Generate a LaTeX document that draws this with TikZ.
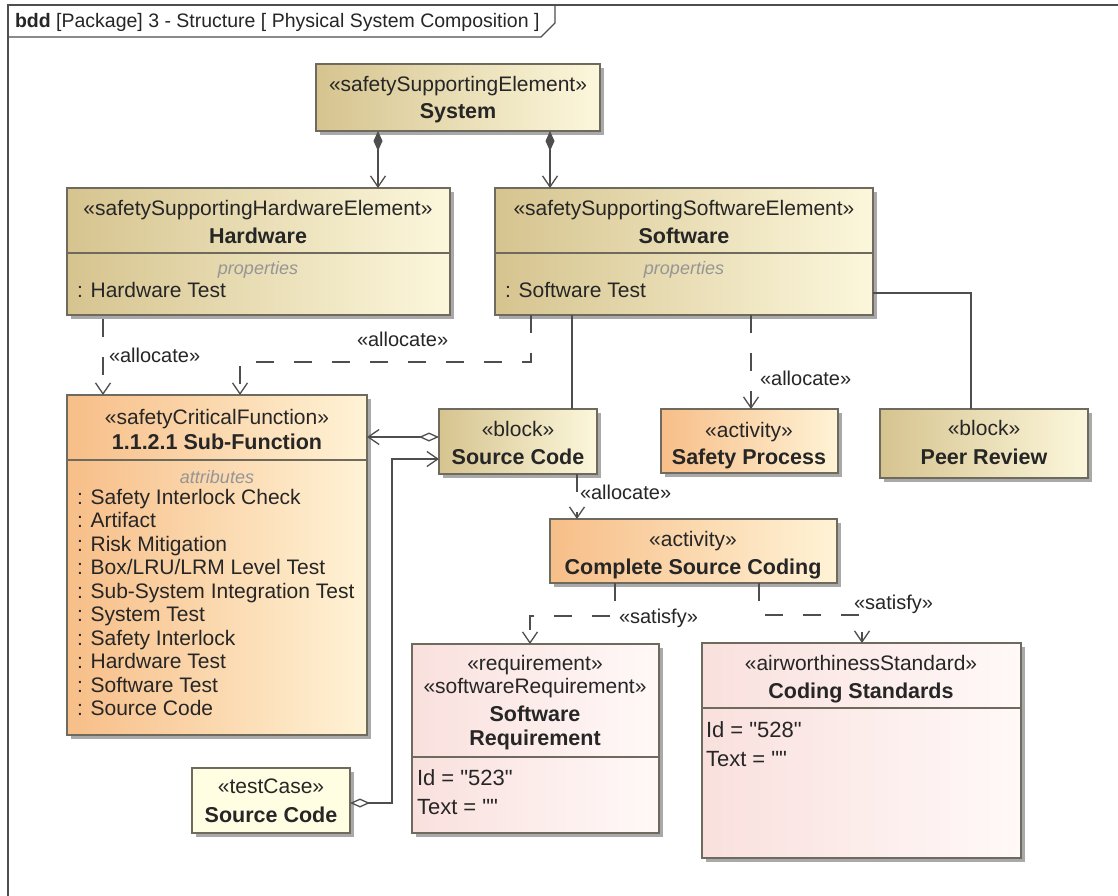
\documentclass[tikz,border=0pt]{standalone}
\usepackage{fontspec}
\setmainfont{Liberation Sans}[Ligatures=TeXOff]
\usetikzlibrary{arrows.meta,shadows}
\definecolor{gold1}{HTML}{D6C48F}
\definecolor{gold2}{HTML}{FCF7DC}
\definecolor{orange1}{HTML}{F7BE88}
\definecolor{orange2}{HTML}{FFF3D6}
\definecolor{pink1}{HTML}{F9E0DD}
\definecolor{pink2}{HTML}{FFF9F8}
\definecolor{tcfill}{HTML}{FFFDE2}
\definecolor{bordc}{HTML}{6E6A5E}
\definecolor{shadowc}{HTML}{A9A9A9}
\definecolor{txt}{HTML}{262626}
\definecolor{linec}{HTML}{4E4E4E}
\definecolor{greyit}{HTML}{959595}
\tikzset{
  box/.style={draw=bordc, line width=1.3pt, anchor=north west,
    drop shadow={shadow xshift=4pt, shadow yshift=-4pt, fill=shadowc, opacity=1}},
  goldbox/.style={box, left color=gold1, right color=gold2},
  orangebox/.style={box, left color=orange1, right color=orange2},
  pinkbox/.style={box, left color=pink1, right color=pink2},
  tcbox/.style={box, fill=tcfill},
  divider/.style={draw=bordc, line width=1.3pt},
  st/.style={anchor=base, font=\fontsize{21}{24}\selectfont},
  nm/.style={anchor=base, font=\fontsize{21.5}{25}\selectfont\bfseries},
  it/.style={anchor=base, text=greyit, font=\fontsize{18}{21}\selectfont\itshape},
  attr/.style={anchor=base west, font=\fontsize{21}{24}\selectfont},
  val/.style={anchor=base west, font=\fontsize{22}{25}\selectfont},
  lbl/.style={anchor=base west, font=\fontsize{20}{24}\selectfont},
  conn/.style={draw=linec, line width=1.3pt},
  dsh/.style={conn, dash pattern=on 18pt off 20pt},
  opentip/.style={-{Straight Barb[length=11pt,width=15pt,line width=1.3pt]}},
  comp/.style={conn, {Diamond[length=20pt,width=9pt]}-{Straight Barb[length=11pt,width=15pt,line width=1.3pt]}},
  aggr/.style={conn, {Diamond[open,length=20pt,width=9pt,fill=white]}-{Straight Barb[length=11pt,width=15pt,line width=1.3pt]}}
}
\begin{document}
\begin{tikzpicture}[x=1pt,y=-1pt, every node/.style={inner sep=0pt, outer sep=0pt, text=txt}]
\useasboundingbox[fill=white] (0,0) rectangle (1118,896);
% frame
\draw[draw=linec, line width=1.3pt] (8,896) -- (8,5) -- (1118,5);
\draw[draw=linec, line width=1.3pt] (8,37) -- (541,37) -- (555,23) -- (555,5);
\node[anchor=base west, font=\fontsize{19.5}{22}\selectfont] (hdr) at (15,28) {\textbf{bdd} [Package] 3 - Structure [ Physical System Composition ]};

% boxes
\node[goldbox, minimum width=284pt, minimum height=67pt] (sys) at (316,64) {};
\node[goldbox, minimum width=383pt, minimum height=127pt] (hw) at (67,188) {};
\node[goldbox, minimum width=378pt, minimum height=127pt] (sw) at (495,188) {};
\node[orangebox, minimum width=300pt, minimum height=340pt] (sub) at (67,395) {};
\node[goldbox, minimum width=158pt, minimum height=65pt] (blk) at (439,409) {};
\node[orangebox, minimum width=177pt, minimum height=64pt] (sp) at (661,409) {};
\node[goldbox, minimum width=208pt, minimum height=69pt] (pr) at (880,409) {};
\node[orangebox, minimum width=287pt, minimum height=64pt] (csc) at (550,519) {};
\node[pinkbox, minimum width=247pt, minimum height=189pt] (req) at (412,644) {};
\node[pinkbox, minimum width=319pt, minimum height=215pt] (cs) at (702,643) {};
\node[tcbox, minimum width=158pt, minimum height=65pt] (tc) at (192,768) {};

% dividers
\draw[divider] ([yshift=-65pt]hw.north west) -- ([yshift=-65pt]hw.north east);
\draw[divider] ([yshift=-65pt]sw.north west) -- ([yshift=-65pt]sw.north east);
\draw[divider] ([yshift=-65pt]sub.north west) -- ([yshift=-65pt]sub.north east);
\draw[divider] ([yshift=-113pt]req.north west) -- ([yshift=-113pt]req.north east);
\draw[divider] ([yshift=-65pt]cs.north west) -- ([yshift=-65pt]cs.north east);

% texts
\node[st] (sysS) at (458,92) {«safetySupportingElement»};
\node[nm] (sysN) at (458,119) {System};

\node[st] (hwS) at (258,215) {«safetySupportingHardwareElement»};
\node[nm] (hwN) at (258,243) {Hardware};
\node[it] (hwP) at (258,274) {properties};
\node[attr] (hwA) at (77,297) {: Hardware Test};

\node[st] (swS) at (684,215) {«safetySupportingSoftwareElement»};
\node[nm] (swN) at (684,243) {Software};
\node[it] (swP) at (684,274) {properties};
\node[attr] (swA) at (505,297) {: Software Test};

\node[st] (subS) at (217,424) {«safetyCriticalFunction»};
\node[nm] (subN) at (217,449) {1.1.2.1 Sub-Function};
\node[it] (subP) at (217,483) {attributes};
\foreach \t [count=\i from 0] in {Safety Interlock Check, Artifact, Risk Mitigation, Box/LRU/LRM Level Test, Sub-System Integration Test, System Test, Safety Interlock, Hardware Test, Software Test, Source Code}
  \node[attr] (subA\i) at (77,504+23.5*\i) {: \t};

\node[st] (blkS) at (518,436) {«block»};
\node[nm] (blkN) at (518,464) {Source Code};

\node[st] (spS) at (749,437) {«activity»};
\node[nm] (spN) at (749,464) {Safety Process};

\node[st] (prS) at (984,435) {«block»};
\node[nm] (prN) at (984,464) {Peer Review};

\node[st] (cscS) at (693,546) {«activity»};
\node[nm] (cscN) at (693,574) {Complete Source Coding};

\node[st] (reqS1) at (535,670) {«requirement»};
\node[st] (reqS2) at (535,693) {«softwareRequirement»};
\node[nm] (reqN1) at (535,721) {Software};
\node[nm] (reqN2) at (535,745) {Requirement};
\node[val] (reqI) at (417,785) {Id = "523"};
\node[val] (reqT) at (417,814) {Text = ""};

\node[st] (csS) at (861,670) {«airworthinessStandard»};
\node[nm] (csN) at (861,698) {Coding Standards};
\node[val] (csI) at (706,737) {Id = "528"};
\node[val] (csT) at (706,766) {Text = ""};

\node[st] (tcS) at (271,793) {«testCase»};
\node[nm] (tcN) at (271,822) {Source Code};

% connectors
\draw[comp] ([xshift=62pt]sys.south west) -- ([xshift=311pt]hw.north west);
\draw[comp] ([xshift=234pt]sys.south west) -- ([xshift=55pt]sw.north west);

\draw[dsh, opentip, dash phase=-4pt] ([xshift=36pt]hw.south west) -- ([xshift=36pt]sub.north west);
\node[lbl] (l1) at (109,362) {«allocate»};

\draw[dsh, opentip] ([xshift=36pt]sw.south west) -- ++(0,47) -| ([xshift=173pt]sub.north west);
\node[lbl] (l2) at (357,346) {«allocate»};

\draw[conn] ([xshift=77pt]sw.south west) -- ([xshift=133pt]blk.north west);

\draw[dsh, opentip] ([xshift=256pt]sw.south west) -- ([xshift=90pt]sp.north west);
\node[lbl] (l3) at (760,385) {«allocate»};

\draw[conn] ([yshift=22pt]sw.south east) -| ([xshift=91pt]pr.north west);

\coordinate (agg) at ([yshift=-28pt]blk.north west);
\draw[aggr] (agg) -- (agg -| sub.east);

\draw[aggr] ([yshift=-35pt]tc.north east) -- ++(42,0) |- ([yshift=-50pt]blk.north west);

\draw[dsh, opentip] ([xshift=138pt]blk.south west) -- ([xshift=27pt]csc.north west);
\node[lbl] (l4) at (580,499) {«allocate»};

\draw[dsh, opentip] ([xshift=65pt]csc.south west) -- ++(0,33) -| ([xshift=118pt]req.north west);
\node[lbl] (l5) at (619,623) {«satisfy»};

\draw[dsh, opentip] ([xshift=209pt]csc.south west) -- ++(0,32) -| ([xshift=160pt]cs.north west);
\node[lbl] (l6) at (854,609) {«satisfy»};
\end{tikzpicture}
\end{document}
